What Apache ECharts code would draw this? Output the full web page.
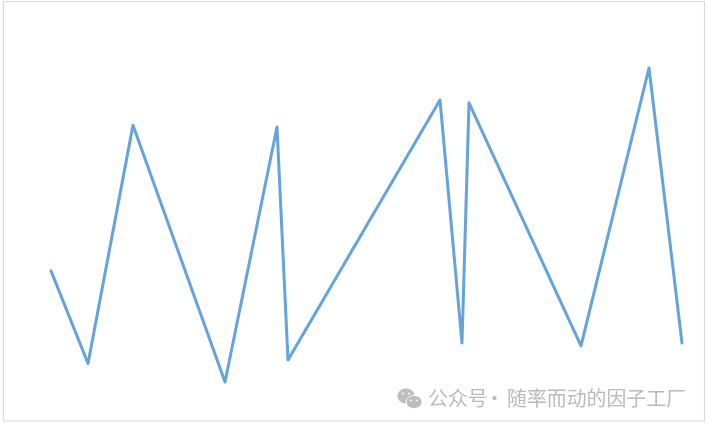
<!DOCTYPE html>
<html>
<head>
<meta charset="utf-8">
<style>html,body{margin:0;padding:0;background:#fff}#c{width:708px;height:426px}</style>
<script src="https://cdn.jsdelivr.net/npm/echarts@6/dist/echarts.min.js"></script>
</head>
<body>
<div id="c"></div>
<script>
const xValues = [0, 37, 82, 174, 226, 237, 389, 411, 418, 530, 598, 631];
const yValues = [35.4, 5.9, 81.8, 0, 81.2, 7, 89.8, 12.4, 88.9, 11.5, 100, 12.4];
const watermarkParts = ['公众号', '·', '随率而动的因子工厂'];

const chart = echarts.init(document.getElementById('c'));
const wmStyle = { fill: '#bababa', font: '19.9px "Noto Sans CJK SC"', textVerticalAlign: 'middle', textAlign: 'left' };
chart.setOption({
  animation: false,
  backgroundColor: '#ffffff',
  grid: { left: 51, right: 26, top: 68, bottom: 44 },
  xAxis: { type: 'value', min: 0, max: 631, show: false },
  yAxis: { type: 'value', min: 0, max: 100, show: false },
  series: [{
    type: 'line',
    data: xValues.map((x, i) => [x, yValues[i]]),
    showSymbol: false,
    smooth: false,
    clip: false,
    lineStyle: { color: '#65a3dc', width: 3, cap: 'round', join: 'round' }
  }],
  graphic: [
    { type: 'rect', silent: true, shape: { x: 3.5, y: 1.5, width: 701, height: 419.5 },
      style: { fill: 'none', stroke: '#d9d9d9', lineWidth: 1.2 } },
    { type: 'ellipse', silent: true, shape: { cx: 406, cy: 396, rx: 8.5, ry: 7.5 }, style: { fill: '#bdbdbd' } },
    { type: 'circle', silent: true, shape: { cx: 403, cy: 393.5, r: 1.1 }, style: { fill: '#fff' } },
    { type: 'circle', silent: true, shape: { cx: 409, cy: 393.5, r: 1.1 }, style: { fill: '#fff' } },
    { type: 'ellipse', silent: true, shape: { cx: 414, cy: 402, rx: 8, ry: 6.5 }, style: { fill: '#bdbdbd', stroke: '#fff', lineWidth: 1 } },
    { type: 'circle', silent: true, shape: { cx: 411, cy: 400.5, r: 1 }, style: { fill: '#fff' } },
    { type: 'circle', silent: true, shape: { cx: 417, cy: 400.5, r: 1 }, style: { fill: '#fff' } },
    { type: 'text', silent: true, style: Object.assign({ x: 428, y: 398, text: watermarkParts[0] }, wmStyle) },
    { type: 'text', silent: true, style: Object.assign({ x: 484.5, y: 398, text: watermarkParts[1] }, wmStyle) },
    { type: 'text', silent: true, style: Object.assign({ x: 507, y: 398, text: watermarkParts[2] }, wmStyle) }
  ]
});
</script>
</body>
</html>
